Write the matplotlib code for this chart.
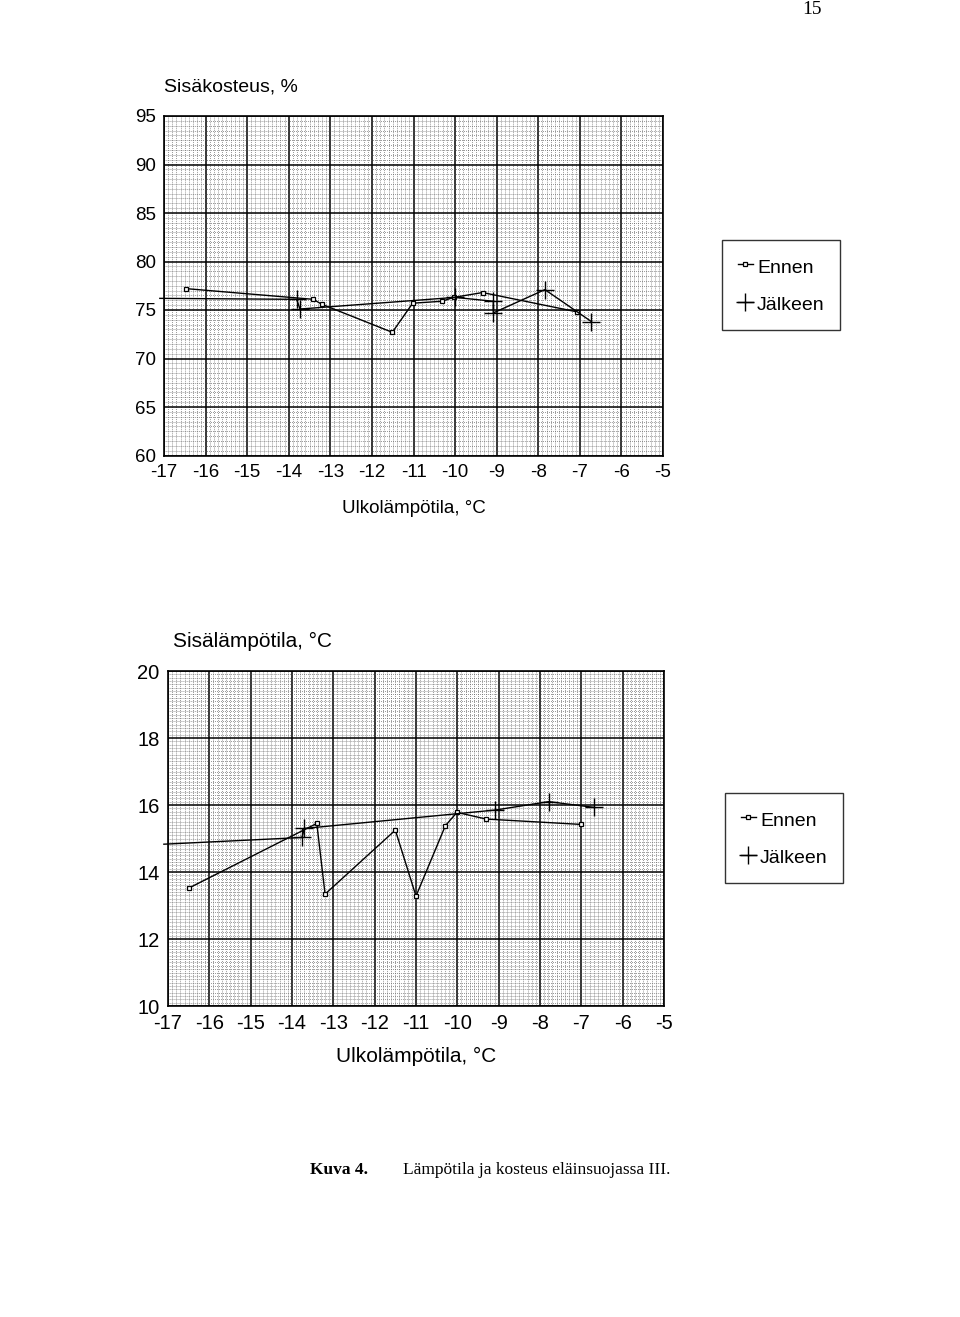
import matplotlib
matplotlib.use("Agg")
import matplotlib.pyplot as plt
import matplotlib.ticker as mticker

# Sisäkosteus, % -- Ennen / Jälkeen (x = ulkolämpötila)
rh_ennen_x = [-16.46, -13.41, -13.21, -11.51, -11.02, -10.32, -10.03, -9.34, -7.06]
rh_ennen_y = [77.2, 76.1, 75.6, 72.7, 75.7, 75.9, 76.3, 76.8, 74.8]
rh_jalkeen_x = [-17.1, -13.81, -13.73, -10.0, -9.08, -9.08, -7.84, -6.72]
rh_jalkeen_y = [76.2, 76.1, 75.1, 76.3, 75.9, 74.7, 77.1, 73.8]

# Sisälämpötila, °C
t_ennen_x = [-16.48, -13.4, -13.2, -11.5, -11.0, -10.29, -10.01, -9.3, -7.0]
t_ennen_y = [13.53, 15.45, 13.34, 15.25, 13.28, 15.38, 15.78, 15.58, 15.42]
t_jalkeen_x = [-17.1, -13.76, -13.7, -9.08, -7.79, -6.7]
t_jalkeen_y = [14.83, 15.03, 15.3, 15.85, 16.1, 15.93]

x_ticks = list(range(-17, -4))
rh_ticks = [60, 65, 70, 75, 80, 85, 90, 95]
t_ticks = [10, 12, 14, 16, 18, 20]

SANS = "Liberation Sans"
SERIF = "Liberation Serif"

plt.rcParams["axes.unicode_minus"] = False  # scanned original uses plain hyphens


def graph_paper(ax, yticks, yminor, fs):
    # millimetre paper look: fine dotted grid + heavy major lines
    ax.set_xlim(-17, -5)
    ax.set_ylim(yticks[0], yticks[-1])
    ax.set_xticks(x_ticks)
    ax.set_yticks(yticks)
    ax.xaxis.set_minor_locator(mticker.MultipleLocator(0.1))
    ax.yaxis.set_minor_locator(mticker.MultipleLocator(yminor))
    ax.grid(which="minor", color="#5a5a5a", linestyle=":", linewidth=0.55)
    ax.grid(which="major", color="black", linestyle="-", linewidth=1.1)
    ax.set_axisbelow(True)
    ax.tick_params(which="both", length=0, labelsize=fs, pad=6)
    for lab in ax.get_xticklabels() + ax.get_yticklabels():
        lab.set_family(SANS)
    for sp in ax.spines.values():
        sp.set_linewidth(1.2)


def draw_series(ax, ex, ey, jx, jy):
    ax.plot(ex, ey, color="black", lw=1.0, marker="s", ms=3.5,
            mfc="white", mec="black", mew=0.9, label="Ennen")
    ax.plot(jx, jy, color="black", lw=1.0, marker="+", ms=13, mew=1.0,
            markevery=list(range(1, len(jx))), clip_on=False, label="Jälkeen")


def add_legend(ax, fig, x0, y0, fs):
    leg = ax.legend(loc="upper left", bbox_to_anchor=(x0 / 960, 1 - y0 / 1317),
                    bbox_transform=fig.transFigure, borderaxespad=0,
                    fancybox=False, frameon=True, handlelength=0.8,
                    handleheight=1.3, handletextpad=0.2, labelspacing=0.85,
                    borderpad=0.8, prop={"family": SANS, "size": fs})
    leg.get_frame().set_edgecolor("black")
    leg.get_frame().set_linewidth(1.0)


fig = plt.figure(figsize=(9.6, 13.17), dpi=100)

# upper chart: humidity
ax1 = fig.add_axes([164 / 960, 1 - 455.5 / 1317, 499 / 960, 339.5 / 1317])
graph_paper(ax1, rh_ticks, 0.5, 13.5)
draw_series(ax1, rh_ennen_x, rh_ennen_y, rh_jalkeen_x, rh_jalkeen_y)
ax1.text(0.0, 1.06, "Sisäkosteus, %", transform=ax1.transAxes, ha="left",
         va="bottom", family=SANS, fontsize=14)
ax1.set_xlabel("Ulkolämpötila, °C", family=SANS, fontsize=13.5, labelpad=14)
add_legend(ax1, fig, 722, 240, 14)

# lower chart: temperature
ax2 = fig.add_axes([168 / 960, 1 - 1006 / 1317, 496 / 960, 335 / 1317])
graph_paper(ax2, t_ticks, 0.1, 14.5)
draw_series(ax2, t_ennen_x, t_ennen_y, t_jalkeen_x, t_jalkeen_y)
ax2.text(0.01, 1.06, "Sisälämpötila, °C", transform=ax2.transAxes, ha="left",
         va="bottom", family=SANS, fontsize=15)
ax2.set_xlabel("Ulkolämpötila, °C", family=SANS, fontsize=15, labelpad=10)
add_legend(ax2, fig, 725, 793, 14)

# page number and caption
fig.text(812 / 960, 1 - 10 / 1317, "15", ha="center", va="center",
         family=SERIF, fontsize=14)
fig.text(310 / 960, 1 - 1170 / 1317, "Kuva 4.", ha="left", va="center",
         family=SERIF, fontsize=12.5, fontweight="bold")
fig.text(403 / 960, 1 - 1170 / 1317, "Lämpötila ja kosteus eläinsuojassa III.",
         ha="left", va="center", family=SERIF, fontsize=12.5)

fig.savefig("out.png", dpi=100)
